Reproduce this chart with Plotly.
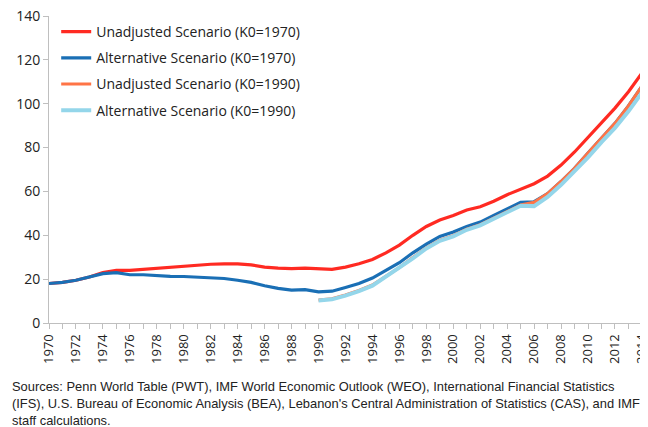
import plotly.graph_objects as go

years = list(range(1970, 2015))

unadj_1970 = [18, 18.5, 19.5, 21, 23, 24, 24, 24.5, 25, 25.5, 26, 26.5, 26.8, 27, 27,
              26.5, 25.5, 25, 24.8, 25, 24.8, 24.5, 25.5, 27, 29, 32, 35.5, 40, 44, 47,
              49, 51.5, 53, 55.5, 58.5, 61, 63.5, 67, 72, 78, 84.5, 91.5, 98, 105.5, 114]

alt_1970 = [18, 18.5, 19.5, 21, 22.5, 23, 22, 22, 21.5, 21.3, 21.2, 21, 20.7, 20.3, 19.5,
            18.5, 17, 15.8, 15, 15.2, 14.2, 14.5, 16.2, 18, 20.5, 24, 27.5, 32, 36, 39.5,
            41.5, 44, 46, 49, 52, 55, 55.3, 59, 64.5, 70.5, 77.5, 84.5, 91, 99, 108]

years_1990 = list(range(1990, 2015))

unadj_1990 = [10.5, 11, 12.8, 14.8, 17.3, 21.3, 25.3, 29.8, 34.3, 37.8, 39.8, 42.8, 44.8,
              47.8, 50.8, 53.8, 55, 59, 64.5, 70.5, 77.5, 84.5, 91, 99, 108]

alt_1990 = [10.3, 10.8, 12.5, 14.5, 17, 21, 25, 29.5, 34, 37.5, 39.5, 42.5, 44.5,
            47.5, 50.5, 53.5, 53.3, 57.5, 63, 69, 75.5, 82.5, 89, 96.5, 105]

names = ["Unadjusted Scenario (K0=1970)", "Alternative Scenario (K0=1970)",
         "Unadjusted Scenario (K0=1990)", "Alternative Scenario (K0=1990)"]

source_text = ("Sources: Penn World Table (PWT), IMF World Economic Outlook (WEO), International Financial Statistics<br>"
               "(IFS), U.S. Bureau of Economic Analysis (BEA), Lebanon's Central Administration of Statistics (CAS), and IMF<br>"
               "staff calculations.")

fig = go.Figure()
fig.add_trace(go.Scatter(x=years, y=unadj_1970, name=names[0], mode="lines",
                         line=dict(color="#ff2a22", width=3.2), legendgroup="a"))
fig.add_trace(go.Scatter(x=years, y=alt_1970, name=names[1], mode="lines",
                         line=dict(color="#1a6fb5", width=3.2), legendgroup="b"))
fig.add_trace(go.Scatter(x=years_1990, y=unadj_1990, name=names[2], mode="lines",
                         line=dict(color="#ff7446", width=3.2), legendgroup="c"))
fig.add_trace(go.Scatter(x=years_1990, y=alt_1990, name=names[3], mode="lines",
                         line=dict(color="#94d6ea", width=4), legendgroup="d"))

# page body has an 8px margin, so the figure is sized/offset to compensate
fig.update_layout(
    width=640, height=419,
    margin=dict(l=41, r=0, t=8, b=104, autoexpand=False),
    paper_bgcolor="white", plot_bgcolor="white",
    font=dict(family="Open Sans, sans-serif", size=14, color="#222"),
    showlegend=True,
    legend=dict(x=0.012, y=1.0, xanchor="left", yanchor="top",
                bgcolor="rgba(0,0,0,0)", font=dict(size=14, color="#222"),
                itemwidth=30, traceorder="grouped", tracegroupgap=5),
    xaxis=dict(range=[1970, 2014.45], tickmode="array",
               tickvals=list(range(1970, 2015, 2)),
               ticktext=[str(y) for y in range(1970, 2015, 2)],
               tickangle=-90, tickfont=dict(size=13, color="#222"),
               showgrid=False, zeroline=False, showline=True,
               linecolor="#bfbfbf", linewidth=1, ticklabeloverflow="allow",
               ticks="outside", ticklen=5, tickcolor="#bfbfbf", automargin=False,
               minor=dict(dtick=1, tick0=1970, ticks="outside", ticklen=5, tickcolor="#bfbfbf")),
    yaxis=dict(range=[0, 140], dtick=20, tickfont=dict(size=14, color="#222"),
               showgrid=False, zeroline=False, showline=True,
               linecolor="#bfbfbf", linewidth=1, automargin=False,
               ticklabeloverflow="allow",
               ticks="outside", ticklen=5, tickcolor="#bfbfbf"),
    annotations=[dict(text=source_text, xref="paper", yref="paper", x=-41/599, y=-0.175,
                      xanchor="left", yanchor="top", showarrow=False, align="left",
                      xshift=2,
                      font=dict(family="Liberation Sans Narrow, Liberation Sans, sans-serif",
                                size=12.9, color="#222"))]
)

fig.write_html("out.html")
